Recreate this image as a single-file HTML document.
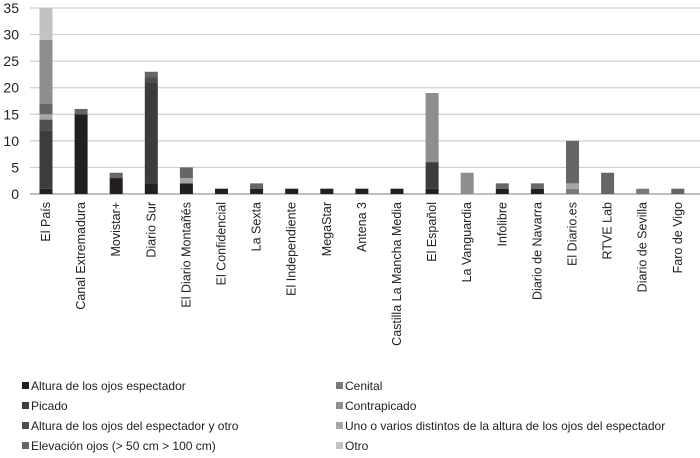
<!DOCTYPE html>
<html><head><meta charset="utf-8"><style>
body{margin:0;background:#fff;}
svg{display:block;font-family:"Liberation Sans",Arial,sans-serif;}
</style></head><body>
<svg id="chart" width="700" height="458"></svg>
<script>
const categories=["El País","Canal Extremadura","Movistar+","Diario Sur","El Diario Montañés","El Confidencial","La Sexta","El Independiente","MegaStar","Antena 3","Castilla La Mancha Media","El Español","La Vanguardia","Infolibre","Diario de Navarra","El Diario.es","RTVE Lab","Diario de Sevilla","Faro de Vigo"];
const seriesNames=["Altura de los ojos espectador","Picado","Altura de los ojos del espectador y otro","Elevación ojos (> 50 cm >  100 cm)","Cenital","Contrapicado","Uno o varios distintos de la altura de los ojos del espectador","Otro"];
const sAltura=[1,15,3,2,2,1,1,1,1,1,1,1,0,1,1,0,0,0,0];
const sPicado=[11,0,0,19,0,0,0,0,0,0,0,5,0,0,0,0,0,0,0];
const sAlturaOtro=[2,0,0,1,0,0,0,0,0,0,0,0,0,0,0,0,0,0,0];
const sElevacion=[2,1,1,1,2,0,1,0,0,0,0,0,0,1,1,8,4,0,1];
const sCenital=[0,0,0,0,0,0,0,0,0,0,0,0,0,0,0,1,0,1,0];
const sContrapicado=[12,0,0,0,0,0,0,0,0,0,0,13,4,0,0,0,0,0,0];
const sUnoVarios=[1,0,0,0,1,0,0,0,0,0,0,0,0,0,0,1,0,0,0];
const sOtro=[6,0,0,0,0,0,0,0,0,0,0,0,0,0,0,0,0,0,0];
const yTicks=[0,5,10,15,20,25,30,35];
const series=[sAltura,sPicado,sAlturaOtro,sElevacion,sCenital,sContrapicado,sUnoVarios,sOtro];
const colors=["#231f20","#3c3c3c","#4e4e4e","#666666","#7a7a7a","#8e8e8e","#a6a6a6","#c2c2c2"];
const stackOrder=[0,1,2,4,6,3,5,7];
const svg=document.getElementById('chart');
const NS="http://www.w3.org/2000/svg";
const x0=30,x1=700,yBase=194,yTop=8,yMax=35;
const y=v=>yBase-(v/yMax)*(yBase-yTop);
const step=35.1,bw=13;
const xc=i=>46+i*step;
function mk(t,a){const e=document.createElementNS(NS,t);for(const k in a)e.setAttribute(k,a[k]);svg.appendChild(e);return e;}
yTicks.forEach(t=>{
  const g=mk('line',{x1:x0,x2:x1,y1:y(t),y2:y(t),stroke:t===0?'#999':'#cfcfcf','stroke-width':1.2});
  
  
  const l=mk('text',{x:19,y:y(t)+5,'text-anchor':'end','font-size':14,fill:'#222'});
  l.textContent=t;
  
  
});
categories.forEach((c,i)=>{
  let acc=0;
  stackOrder.forEach(k=>{
    const v=series[k][i];if(!v)return;
    const r=mk('rect',{x:xc(i)-bw/2,y:y(acc+v),width:bw,height:y(acc)-y(acc+v),fill:colors[k]});
    
    
    acc+=v;
  });
  const t=mk('text',{x:0,y:0,'text-anchor':'end','font-size':12.5,fill:'#222',transform:`translate(${xc(i)+4},202) rotate(-90)`});
  t.textContent=c;
  
  
});
seriesNames.forEach((n,k)=>{
  const col=k<4?0:1,row=k%4;
  const lx=col?336:22,ly=386+row*20;
  const sq=mk('rect',{x:lx,y:ly-4,width:7,height:7,fill:colors[k]});
  
  
  const t=mk('text',{x:lx+9,y:ly+4,'font-size':12,fill:'#222'});
  t.textContent=n;
  
  
});
</script>
</body></html>
